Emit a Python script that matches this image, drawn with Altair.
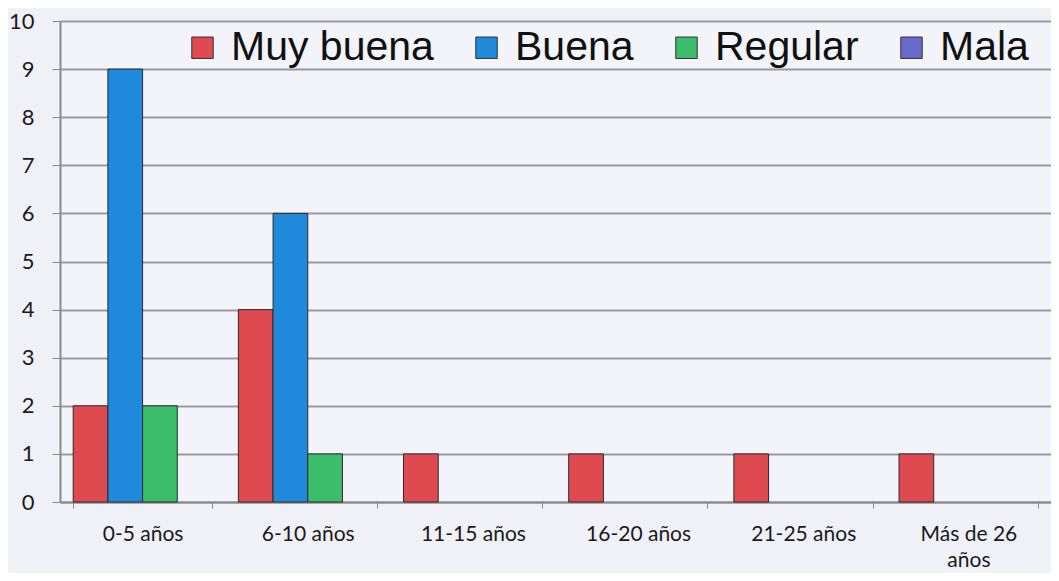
import altair as alt
import pandas as pd

categories = ["0-5 años", "6-10 años", "11-15 años", "16-20 años", "21-25 años", "Más de 26 años"]
series = ["Muy buena", "Buena", "Regular", "Mala"]
muy_buena = [2, 4, 1, 1, 1, 1]
buena = [9, 6, 0, 0, 0, 0]
regular = [2, 1, 0, 0, 0, 0]
mala = [0, 0, 0, 0, 0, 0]
colors = ["#DF4A50", "#1F8ADB", "#3CBD6B", "#6A68C8"]

rows = []
for s, vals in zip(series, [muy_buena, buena, regular, mala]):
    for c, v in zip(categories, vals):
        rows.append({"cat": c, "serie": s, "valor": v})
df = pd.DataFrame(rows)

bars = alt.Chart(df).transform_filter("datum.valor > 0").mark_bar(stroke="#2a2a2a", strokeWidth=1).encode(
    x=alt.X("cat:N", sort=categories, title=None,
            scale=alt.Scale(domain=categories, paddingInner=0.16, paddingOuter=0.08),
            axis=alt.Axis(labelAngle=0, labelFont="Lato", labelFontSize=21, labelColor="#1a1a1a",
                          labelPadding=15, tickBand="extent", tickSize=6, tickColor="#8a8a8a",
                          domainColor="#8a8a8a", domainWidth=2, grid=False, labelLineHeight=26,
                          labelExpr="datum.label == 'Más de 26 años' ? ['Más de 26', 'años'] : datum.label")),
    xOffset=alt.XOffset("serie:N", sort=series,
                        scale=alt.Scale(domain=series, paddingInner=0, paddingOuter=0)),
    y=alt.Y("valor:Q", title=None,
            scale=alt.Scale(domain=[0, 10], nice=False),
            axis=alt.Axis(values=list(range(0, 11)), labelFont="Lato", labelFontSize=22,
                          labelColor="#1a1a1a", labelPadding=18, tickSize=8, tickColor="#8a8a8a",
                          domainColor="#8a8a8a", domainWidth=2, gridColor="#9a9a9a", gridWidth=2)),
    color=alt.Color("serie:N", sort=series, title=None,
                    scale=alt.Scale(domain=series, range=colors),
                    legend=alt.Legend(orient="none", legendX=122, legendY=6, direction="horizontal",
                                      symbolType="square", symbolSize=460, symbolStrokeColor="#333333",
                                      symbolStrokeWidth=1, labelFont="Liberation Sans", labelFontSize=41,
                                      labelColor="#111111", labelOffset=8, columnPadding=32,
                                      labelLimit=400, fillColor="#F2F4F9")),
)

chart = bars.properties(
    width=991, height=481,
    autosize=alt.AutoSizeParams(type="none"),
    padding={"left": 52, "top": 13, "right": 0, "bottom": 71},
    background="#EFF1F7",
).configure_view(stroke=None, fill="#F2F4F9")

chart.save("out.html", embed_options={"renderer": "svg", "actions": False})
